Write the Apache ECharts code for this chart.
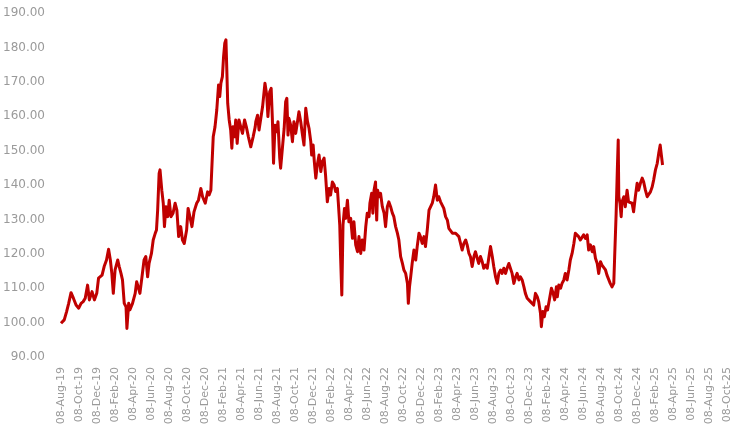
<!DOCTYPE html>
<html>
<head>
<meta charset="utf-8">
<script src="https://cdn.jsdelivr.net/npm/echarts@6/dist/echarts.min.js"></script>
<style>html,body{margin:0;padding:0;background:#fff}#c{width:742px;height:432px}</style>
</head>
<body>
<div id="c"></div>
<script>
// Tick labels on the x axis (every two months)
var tickLabels = ["08-Aug-19","08-Oct-19","08-Dec-19","08-Feb-20","08-Apr-20","08-Jun-20","08-Aug-20","08-Oct-20","08-Dec-20","08-Feb-21","08-Apr-21","08-Jun-21","08-Aug-21","08-Oct-21","08-Dec-21","08-Feb-22","08-Apr-22","08-Jun-22","08-Aug-22","08-Oct-22","08-Dec-22","08-Feb-23","08-Apr-23","08-Jun-23","08-Aug-23","08-Oct-23","08-Dec-23","08-Feb-24","08-Apr-24","08-Jun-24","08-Aug-24","08-Oct-24","08-Dec-24","08-Feb-25","08-Apr-25","08-Jun-25","08-Aug-25","08-Oct-25"];
var yTicks = [90,100,110,120,130,140,150,160,170,180,190];
var startDate = "2019-08-08";
// Observation day offsets from startDate
var days = [0,11,19,26,34,42,51,60,68,75,82,90,96,105,113,121,127,139,146,154,161,167,172,177,183,192,197,203,208,214,220,223,229,233,242,251,256,261,267,274,281,287,293,298,306,312,319,323,327,332,
335,341,346,350,355,361,366,372,379,386,392,398,405,411,417,425,430,436,443,450,459,465,473,479,488,496,501,507,510,515,521,527,533,537,541,546,550,554,558,561,564,569,574,578,582,587,591,596,602,608,614,621,627,634,642,650,657,
659,665,670,676,682,687,690,696,700,706,711,715,719,724,730,734,740,743,749,755,760,764,768,771,777,783,788,794,800,805,811,817,822,828,834,839,845,848,853,857,862,867,873,879,884,890,895,901,907,912,918,924,929,935,938,943,946,950,954,959,963,969,974,980,986,991,997,1003,
1008,1014,1019,1025,1031,1036,1042,1045,1051,1055,1059,1064,1068,1071,1076,1081,1087,1093,1098,1104,1109,1115,1121,1126,1132,1138,1143,1149,1155,1160,1166,1172,1175,1179,1183,1188,1194,1200,1205,1211,1216,1222,1228,1233,1239,1245,1250,1256,1261,1267,1273,1278,1284,1290,1295,1301,1307,1312,1318,1324,1329,
1335,1340,1346,1352,1357,1363,1369,1374,1380,1385,1391,1397,1402,1408,1413,1419,1425,1430,1436,1442,1447,1453,1459,1464,1470,1476,1481,1487,1492,1498,1504,1509,1515,1521,1526,1532,1538,1543,1549,1554,1560,1566,1571,1577,1583,1588,1594,1599,1605,1611,1616,1622,1625,1630,1635,1641,1646,1652,1659,1665,1670,
1676,1679,1684,1690,1695,1701,1706,1712,1718,1723,1729,1735,1740,1746,1751,1757,1763,1768,1774,1780,1785,1791,1797,1802,1808,1814,1819,1825,1830,1836,1842,1847,1853,1858,1864,1870,1873,1878,1882,1885,1887,1891,1895,1898,1904,1909,1915,1920,1926,1932,1937,1943,1949,1954,1960,1966,1971,1977,1983,1988,1994,2000,2005,2011,2017,2022,2027,2031,2035];
// Index values
var values = [99.8,100.8,103.2,105.6,108.7,107.1,105.1,104.2,105.6,106.1,107.1,110.9,106.6,109.0,106.6,108.5,112.9,113.8,116.3,118.2,121.3,118.2,114.3,108.5,115.3,118.2,116.3,114.3,112.4,105.6,104.6,98.3,105.6,103.7,105.6,108.5,111.9,110.4,108.5,113.3,118.2,119.2,113.3,117.2,120.1,124.0,126.0,126.9,132.7,143.4,
144.4,138.5,134.7,127.9,133.7,130.8,135.6,130.8,131.8,134.7,132.7,125.0,127.9,124.0,123.0,126.9,133.2,130.8,127.9,132.2,134.7,135.6,139.0,136.6,134.7,138.0,137.1,138.5,144.4,154.0,156.9,161.8,169.1,165.7,169.6,171.5,177.3,181.2,182.2,173.4,163.7,158.9,156.0,150.7,156.9,154.0,158.9,152.1,158.9,156.9,155.0,158.9,156.9,154.0,151.1,154.0,156.9,
158.4,160.3,156.0,159.4,162.8,167.1,169.6,166.2,159.9,167.1,168.1,159.4,146.3,157.4,155.5,158.4,147.8,144.9,150.7,156.5,164.2,165.2,154.5,159.4,157.4,152.6,158.4,155.0,158.4,161.3,158.4,154.5,151.6,162.3,158.4,156.5,152.6,148.7,151.6,146.8,142.0,145.8,148.7,143.9,146.8,147.8,142.9,135.1,139.0,137.1,140.9,140.0,138.1,139.0,135.1,128.4,118.7,108.0,128.4,133.2,130.3,135.6,129.3,130.3,124.5,129.3,122.6,120.6,
125.0,120.1,124.0,121.1,127.9,131.8,130.8,134.7,137.6,131.8,138.5,140.9,129.8,138.5,136.6,137.6,133.7,131.8,127.9,133.7,135.1,133.7,131.8,130.8,127.9,126.0,124.0,119.2,117.2,115.3,114.3,111.4,105.6,110.4,113.3,117.2,121.1,118.2,122.1,126.0,125.0,123.0,125.0,122.1,126.9,132.7,133.2,134.7,136.6,140.0,135.6,136.6,135.1,134.7,133.2,130.8,129.8,127.4,126.9,126.0,126.4,
126.0,126.4,125.0,124.5,121.1,123.0,124.0,122.6,120.1,119.2,116.3,119.2,120.6,121.1,117.2,119.2,117.7,115.8,116.7,115.8,118.7,122.1,119.2,116.3,113.3,111.4,114.3,115.3,114.3,115.8,114.3,115.8,117.2,116.7,114.3,111.4,113.3,114.3,112.4,113.3,112.4,110.4,108.5,107.1,107.5,106.1,106.6,105.1,108.5,107.5,106.1,102.7,98.8,103.2,101.7,104.6,103.7,106.6,110.0,108.5,106.6,
110.4,107.5,110.9,110.0,111.4,112.4,114.3,112.4,115.3,118.2,120.1,123.0,126.0,125.5,125.0,124.0,124.5,125.5,124.5,125.5,121.1,122.6,120.6,122.1,118.7,117.2,114.3,117.7,116.7,117.2,115.3,113.8,113.3,111.4,110.4,111.4,119.2,131.8,144.4,153.1,136.6,134.7,130.8,135.1,136.6,133.7,138.5,135.1,135.6,134.7,132.2,136.6,140.5,138.5,140.5,142.0,140.9,138.5,136.6,137.1,138.0,139.5,141.5,144.4,146.3,149.2,151.6,148.7,145.8];

var MONTHS = {Jan:0,Feb:1,Mar:2,Apr:3,May:4,Jun:5,Jul:6,Aug:7,Sep:8,Oct:9,Nov:10,Dec:11};
function parseLabel(s){var p=s.split('-');return Date.UTC(2000+parseInt(p[2],10),MONTHS[p[1]],parseInt(p[0],10));}
var tickTimes = tickLabels.map(parseLabel);
var labelByTime = {};
tickTimes.forEach(function(t,i){labelByTime[t]=tickLabels[i];});
var sp = startDate.split('-');
var t0 = Date.UTC(+sp[0], +sp[1]-1, +sp[2]);
var seriesData = days.map(function(d,i){return [t0 + d*86400000, values[i]];});

var chart = echarts.init(document.getElementById('c'), null, {renderer:'canvas'});
var font = 'DejaVu Sans';
var labelColor = '#9a9a9a';
chart.setOption({
  animation:false,
  backgroundColor:'#ffffff',
  grid:{left:60,right:15,top:13,bottom:75,containLabel:false},
  xAxis:{
    type:'value',
    min:tickTimes[0],
    max:tickTimes[tickTimes.length-1],
    axisLine:{show:false},
    axisTick:{show:false, customValues:tickTimes},
    splitLine:{show:false},
    axisLabel:{
      customValues:tickTimes,
      rotate:90,
      margin:10,
      color:labelColor,
      fontFamily:font,
      fontSize:11,
      hideOverlap:false,
      showMinLabel:true,
      showMaxLabel:true,
      formatter:function(v){return labelByTime[v] || '';}
    }
  },
  yAxis:{
    type:'value',
    min:yTicks[0],
    max:yTicks[yTicks.length-1],
    interval:10,
    axisLine:{show:false},
    axisTick:{show:false},
    splitLine:{show:false},
    axisLabel:{
      margin:16,
      color:labelColor,
      fontFamily:font,
      fontSize:12,
      formatter:function(v){return v.toFixed(2);}
    }
  },
  series:[{
    type:'line',
    data:seriesData,
    showSymbol:false,
    symbol:'none',
    lineStyle:{color:'#C00000',width:3,join:'round'},
    itemStyle:{color:'#C00000'}
  }]
});
</script>
</body>
</html>
